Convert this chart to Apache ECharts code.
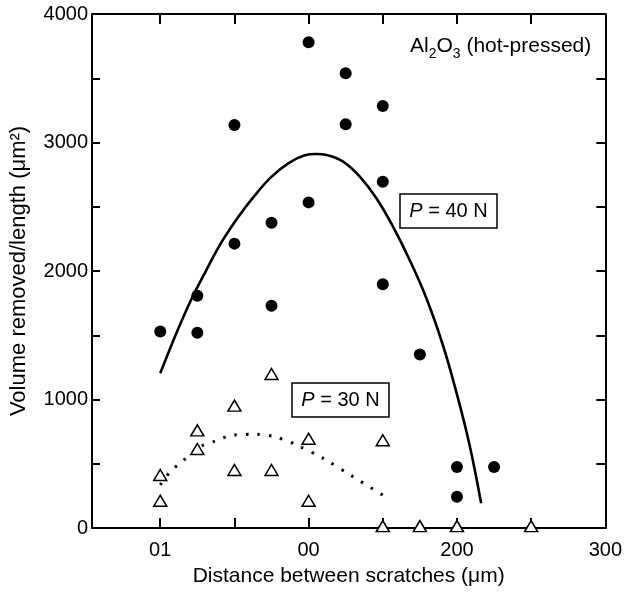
<!DOCTYPE html>
<html>
<head>
<meta charset="utf-8">
<script src="https://cdn.jsdelivr.net/npm/echarts@6/dist/echarts.min.js"></script>
<style>html,body{margin:0;padding:0;background:#fff}#c{width:625px;height:593px}</style>
</head>
<body>
<div id="c"></div>
<script>
// ---- data ----
const xTickValues = [0, 100, 200, 300];
const xTickLabels = ['01', '00', '200', '300'];
const xMinorTicks = [0, 50, 100, 150, 200, 250, 300];
const yTickLabels = [0, 1000, 2000, 3000, 4000];

// P = 40 N (filled circles)
const p40x = [0, 25, 25, 50, 50, 75, 75, 100, 100, 125, 125, 150, 150, 150, 175, 200, 200, 225];
const p40y = [1530, 1808, 1520, 3136, 2213, 2376, 1730, 3780, 2534, 3538, 3142, 3284, 2695, 1896, 1351, 475, 244, 475];

// P = 30 N (open triangles)
const p30x = [0, 0, 25, 25, 50, 50, 75, 75, 100, 100, 150, 150, 175, 200, 250];
const p30y = [412, 212, 760, 615, 952, 451, 1198, 451, 695, 212, 683, 15, 15, 15, 15];

// fitted curve, P = 40 N (solid)
const fit40x = [0, 10.1, 20.2, 30.3, 41.5, 52.7, 63.9, 75.1, 86.3, 97.5, 105, 112.1, 123.3, 134.5, 145.7, 156.9, 168.1, 179.4, 190.5, 199.5, 208.5, 216.3];
const fit40y = [1204, 1495, 1761, 1990, 2228, 2423, 2591, 2734, 2838, 2900, 2910, 2903, 2851, 2734, 2566, 2345, 2086, 1788, 1424, 1061, 646, 192];

// fitted curve, P = 30 N (dotted)
const fit30x = [0, 6.7, 14.6, 26.9, 35.9, 49.3, 65, 78.5, 91.9, 109.8, 130, 152.4];
const fit30y = [335, 438, 516, 633, 672, 724, 729, 706, 646, 542, 399, 239];

const zip = (xs, ys) => xs.map((x, i) => [x, ys[i]]);

const FONT = '"Liberation Sans", Arial, Helvetica, sans-serif';
const chart = echarts.init(document.getElementById('c'), null, {renderer: 'canvas'});

const axisCommon = {
  axisLine: {show: true, onZero: false, lineStyle: {color: '#000', width: 2}},
  splitLine: {show: false}
};

chart.setOption({
  backgroundColor: '#fff',
  animation: false,
  grid: {left: 92, right: 19, top: 14, bottom: 65, containLabel: false},
  xAxis: [
    Object.assign({}, axisCommon, {
      type: 'value', position: 'bottom', min: -46, max: 300,
      name: 'Distance between scratches (\u03bcm)', nameLocation: 'middle', nameGap: 38,
      nameTextStyle: {fontFamily: FONT, fontSize: 21, color: '#000'},
      axisTick: {show: true, inside: true, length: 10, lineStyle: {color: '#000', width: 2}, customValues: xMinorTicks},
      axisLabel: {fontFamily: FONT, fontSize: 20, color: '#000', margin: 12, customValues: xTickValues,
        formatter: v => { const i = xTickValues.indexOf(v); return i >= 0 ? xTickLabels[i] : ''; }}
    }),
    Object.assign({}, axisCommon, {
      type: 'value', position: 'top', min: -46, max: 300,
      axisTick: {show: true, inside: true, length: 10, lineStyle: {color: '#000', width: 2}, customValues: xMinorTicks},
      axisLabel: {show: false}
    })
  ],
  yAxis: [
    Object.assign({}, axisCommon, {
      type: 'value', position: 'left', min: 0, max: 4000, interval: 500,
      name: 'Volume removed/length (\u03bcm\u00b2)', nameLocation: 'middle', nameGap: 62,
      nameTextStyle: {fontFamily: FONT, fontSize: 22, color: '#000'},
      axisTick: {show: true, inside: true, length: 8, lineStyle: {color: '#000', width: 2}},
      axisLabel: {fontFamily: FONT, fontSize: 20, color: '#000', margin: 4,
        formatter: v => yTickLabels.indexOf(v) >= 0 ? String(v) : ''}
    }),
    Object.assign({}, axisCommon, {
      type: 'value', position: 'right', min: 0, max: 4000, interval: 500,
      axisTick: {show: true, inside: true, length: 9, lineStyle: {color: '#000', width: 2}},
      axisLabel: {show: false}
    })
  ],
  series: [
    {
      type: 'line', data: zip(fit40x, fit40y), smooth: 0.4, showSymbol: false, symbol: 'none',
      lineStyle: {color: '#000', width: 2.6}, z: 2
    },
    {
      type: 'line', data: zip(fit30x, fit30y), smooth: 0.3, showSymbol: false, symbol: 'none',
      lineStyle: {color: '#000', width: 3, type: [2.5, 9]}, z: 2
    },
    {
      type: 'scatter', data: zip(p40x, p40y), symbol: 'circle', symbolSize: 12,
      itemStyle: {color: '#000', opacity: 1}, z: 3, clip: false
    },
    {
      type: 'scatter', data: zip(p30x, p30y), symbol: 'triangle', symbolSize: [13, 11],
      itemStyle: {color: '#fff', borderColor: '#000', borderWidth: 1.5, opacity: 1}, z: 4, clip: false
    }
  ],
  graphic: [
    {
      type: 'text', left: 410, top: 36, z: 10,
      style: {
        text: '{t|Al}{s|2}{t|O}{s|3}{t| (hot-pressed)}',
        rich: {
          t: {fontFamily: FONT, fontSize: 21, fill: '#000', verticalAlign: 'bottom', lineHeight: 24},
          s: {fontFamily: FONT, fontSize: 14, fill: '#000', verticalAlign: 'bottom', lineHeight: 18, padding: [0, 0, -4, 0]}
        }
      }
    },
    {type: 'rect', shape: {x: 400, y: 194, width: 97, height: 34}, style: {fill: '#fff', stroke: '#000', lineWidth: 1.5}, z: 10},
    {
      type: 'text', x: 448.5, y: 211, z: 11,
      style: {
        text: '{i|P} = 40 N', align: 'center', verticalAlign: 'middle',
        font: '20px ' + FONT, fill: '#000',
        rich: {i: {fontStyle: 'italic', fontFamily: FONT, fontSize: 20, fill: '#000'}}
      }
    },
    {type: 'rect', shape: {x: 292, y: 383, width: 97, height: 34}, style: {fill: '#fff', stroke: '#000', lineWidth: 1.5}, z: 10},
    {
      type: 'text', x: 340.5, y: 400, z: 11,
      style: {
        text: '{i|P} = 30 N', align: 'center', verticalAlign: 'middle',
        font: '20px ' + FONT, fill: '#000',
        rich: {i: {fontStyle: 'italic', fontFamily: FONT, fontSize: 20, fill: '#000'}}
      }
    }
  ]
});
</script>
</body>
</html>
